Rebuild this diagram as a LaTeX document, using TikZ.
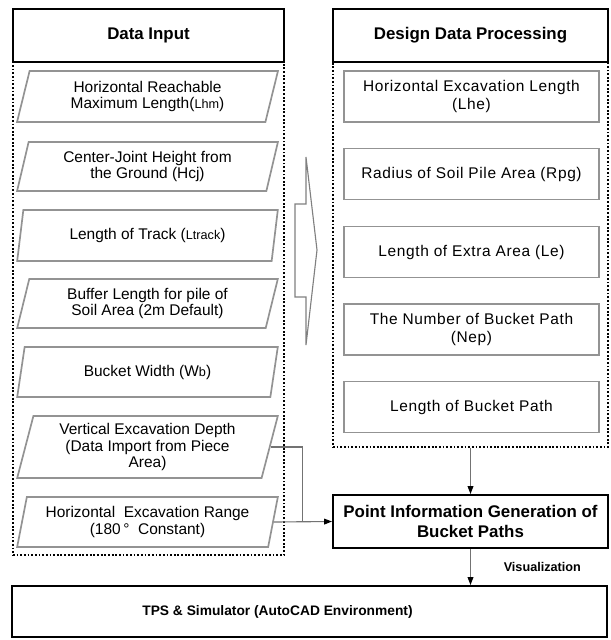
\documentclass[tikz,border=0pt]{standalone}
\usepackage{fontspec}
\setmainfont{Liberation Sans}
\usetikzlibrary{shapes.geometric, arrows.meta, calc}
\tikzset{
	tri/.tip={Triangle[angle=40:6pt, color=black]},
	% boxes
	head/.style={draw, line width=1.4pt, fill=white, minimum height=1.325cm, font=\bfseries\large},
	dotframe/.style={draw, line width=1.3pt, dash pattern=on 1.3pt off 1.3pt},
	inputbox/.style={trapezium, trapezium left angle=75, trapezium right angle=105,
		trapezium stretches=true, draw=gray!85, line width=1.2pt,
		minimum width=6.525cm, align=center, inner sep=0pt, font=\fontsize{11}{11.5}\selectfont},
	calcbox/.style={draw=gray!85, line width=1.2pt, minimum width=6.375cm,
		minimum height=1.275cm, align=center, inner sep=0pt,
		font=\fontsize{11}{13}\selectfont\addfontfeature{LetterSpace=4}},
	mainbox/.style={draw, line width=1.4pt, align=center, font=\bfseries\large},
	link/.style={draw=gray!90!black, line width=0.8pt}
}
\begin{document}
\begin{tikzpicture}[x=0.025cm, y=-0.025cm]
	\useasboundingbox (0,0) rectangle (611,640);
	
	% Frames
	\node[dotframe, minimum width=6.775cm, minimum height=12.325cm] (inframe) at (148.5,308.5) {};
	\node[dotframe, minimum width=6.875cm, minimum height=9.625cm] (procframe) at (470.5,254.5) {};
	
	% Headers
	\node[head, minimum width=6.775cm] (input) at (148.5,35.5) {Data Input};
	\node[head, minimum width=6.875cm] (proc) at (470.5,35.5) {Design Data Processing};
	
	% Input data
	\node[inputbox, minimum height=1.275cm] (lhm) at (147.5,96.5) {Horizontal Reachable\\Maximum Length({\small Lhm})};
	\node[inputbox, minimum height=1.225cm] (hcj) at (147.5,166.5) {Center-Joint Height from\\the Ground (Hcj)};
	\node[inputbox, minimum height=1.275cm] (ltrack) at (147.5,235.5) {Length of Track ({\small Ltrack})};
	\node[inputbox, minimum height=1.225cm] (buffer) at (147.5,303.5) {Buffer Length for pile of\\Soil Area (2m Default)};
	\node[inputbox, minimum height=1.25cm] (wb) at (147.5,372) {Bucket Width (W{\small b})};
	\node[inputbox, minimum height=1.55cm] (depth) at (147.5,447) {Vertical Excavation Depth\\(Data Import from Piece\\Area)};
	\node[inputbox, minimum height=1.25cm] (range) at (147.5,522) {Horizontal\ \ Excavation Range\\(180\,°\ \ Constant)};
	
	% Processed data
	\node[calcbox] (lhe) at (471.5,96.5) {Horizontal Excavation Length\\(Lhe)};
	\node[calcbox] (rpg) at (471.5,174) {Radius of Soil Pile Area (Rpg)};
	\node[calcbox] (le) at (471.5,252) {Length of Extra Area (Le)};
	\node[calcbox] (nep) at (471.5,329.5) {The Number of Bucket Path\\(Nep)};
	\node[calcbox] (lpath) at (471.5,407) {Length of Bucket Path};
	
	% Output
	\node[mainbox, minimum width=6.875cm, minimum height=1.325cm] (point) at (470.5,521.5) {Point Information Generation of\\Bucket Paths};
	\node[mainbox, minimum width=14.875cm, minimum height=1.275cm, font=\bfseries\fontsize{9.8}{12}\selectfont] (tps) at (309.5,611.5) {TPS \& Simulator (AutoCAD Environment)\hspace*{1.6cm}};
	
	% Hollow arrow
	\draw[gray, line width=0.8pt] (295,204) -- (306,204) -- (306,157) -- (317,250)
		-- (306,345) -- (306,297) -- (295,297) -- cycle;
	
	% Connectors
	\coordinate (joint) at ($(range.east)!0.5!(point.west)$);
	\draw[link] (depth.east) -| (joint);
	\draw[link, -tri] (range.east) -- (point.west);
	\draw[link, -tri] (procframe.south) -- (point.north);
	\draw[link, -tri] (point.south) -- (point.south |- tps.north) node[midway, anchor=west, xshift=0.7cm, text=black, font=\bfseries\small] {Visualization};
\end{tikzpicture}
\end{document}
